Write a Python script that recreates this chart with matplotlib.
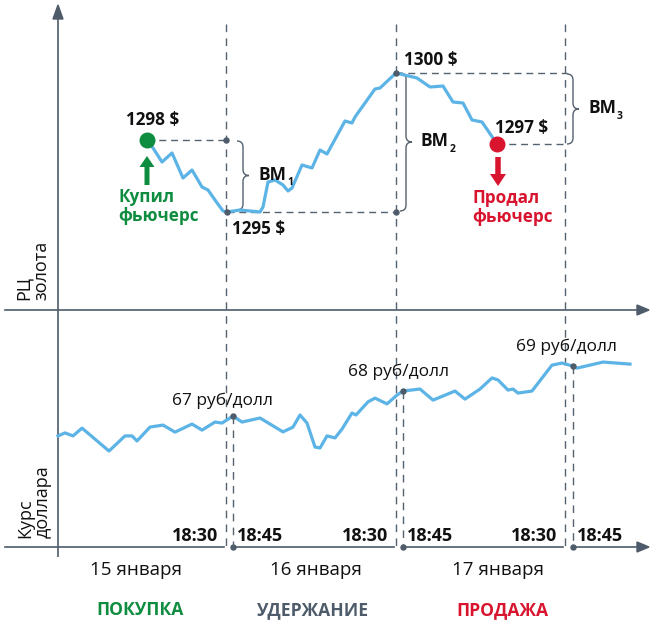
import matplotlib
matplotlib.use('Agg')
import numpy as np
import matplotlib.pyplot as plt
from matplotlib.path import Path
from matplotlib.patches import PathPatch, FancyArrow, Polygon

plt.rcParams['font.family'] = ['Open Sans', 'DejaVu Sans']

# ---------------- data ----------------
# gold futures price path (schematic level units) over time
gold_t = [147, 153, 162, 172, 183, 192, 195, 202, 208, 215, 223, 227, 240, 260, 263,
          268, 275, 283, 288, 292, 302, 312, 320, 327, 345, 352, 355, 375, 380, 396,
          417, 430, 443, 453, 463, 472, 482, 493, 497]
gold_level = [170, 162, 148, 157, 132, 140, 135, 123, 120, 110, 99, 98, 100, 98, 103,
              128, 130, 125, 119, 122, 145, 142, 160, 156, 189, 187, 193, 221, 222, 237,
              232, 223, 224, 208, 207, 190, 188, 172, 166]
gold_labels = ['1298 $', '1295 $', '1300 $', '1297 $']

# USD/RUB rate over the same time axis
usd_t = [58, 65, 73, 82, 109, 125, 132, 137, 150, 163, 175, 192, 202, 215, 222, 233,
         242, 260, 283, 293, 300, 307, 315, 320, 327, 335, 342, 352, 356, 368, 375, 387,
         397, 403, 420, 433, 455, 465, 480, 492, 498, 508, 513, 518, 532, 552, 562, 573,
         577, 603, 630]
usd_rate = [66.23, 66.35, 66.23, 66.54, 65.63, 66.23, 66.23, 66.03, 66.58, 66.66, 66.38,
            66.70, 66.46, 66.78, 66.74, 67.02, 66.78, 66.94, 66.39, 66.58, 67.06, 66.74,
            65.79, 65.75, 66.23, 66.15, 66.50, 67.14, 67.06, 67.58, 67.73, 67.50, 67.85,
            68.01, 68.09, 67.65, 68.01, 67.69, 68.09, 68.53, 68.45, 68.05, 68.09, 67.93,
            68.01, 69.04, 69.12, 69.00, 68.92, 69.16, 69.08]
usd_labels = ['67 руб/долл', '68 руб/долл', '69 руб/долл']

close_t = [226, 396, 565]     # 18:30 session close
open_t = [233, 403, 573]      # 18:45 session open
close_labels = ['18:30', '18:30', '18:30']
open_labels = ['18:45', '18:45', '18:45']
days = ['15 января', '16 января', '17 января']
phases = ['ПОКУПКА', 'УДЕРЖАНИЕ', 'ПРОДАЖА']
vm_labels = ['ВМ', 'ВМ', 'ВМ']
vm_subs = ['1', '2', '3']

# ---------------- style ----------------
W, H = 654, 621
AXC = '#4d5b6a'
DASHC = '#55626f'
LINEC = '#5cb4e6'
GREEN = '#0e8c3f'
RED = '#d8142f'
TXT = '#111111'

fig = plt.figure(figsize=(W / 100, H / 100), dpi=100)
ax = fig.add_axes([0, 0, 1, 1])
ax.set_xlim(0, W)
ax.set_ylim(H, 0)
ax.axis('off')

GOLD_TOP = 310  # pixel row of gold panel baseline
ax_g = fig.add_axes([0, 1 - GOLD_TOP / H, 1, GOLD_TOP / H])
ax_g.set_xlim(0, W)
ax_g.set_ylim(0, GOLD_TOP)
ax_g.axis('off')
ax_g.patch.set_alpha(0)

USD_LO, USD_HI = 61.306, 71.226
ax_u = fig.add_axes([0, 1 - 560 / H, 1, 250 / H])
ax_u.set_xlim(0, W)
ax_u.set_ylim(USD_LO, USD_HI)
ax_u.axis('off')
ax_u.patch.set_alpha(0)

# ---------------- axes lines ----------------
ax.plot([58, 58], [17, 557], color=AXC, lw=1.2, solid_capstyle='butt')
ax.add_patch(Polygon([(53, 19), (58, 5), (63, 19)], closed=True, color=AXC))
ax.plot([5, 640], [310, 310], color=AXC, lw=1.2)
ax.add_patch(Polygon([(637, 305), (649, 310), (637, 315)], closed=True, color=AXC))
seg_starts = [5] + open_t
seg_ends = [c - 2 for c in close_t] + [640]
for s, e in zip(seg_starts, seg_ends):
    ax.plot([s, e], [547, 547], color=AXC, lw=1.2)
ax.add_patch(Polygon([(637, 542), (649, 547), (637, 552)], closed=True, color=AXC))
ax.plot(open_t, [547] * 3, 'o', color=AXC, ms=3.6, zorder=5)

# ---------------- vertical dashed session lines ----------------
dash = (0, (5.5, 4.5))
for c in close_t:
    ax.plot([c, c], [24, 549], color=DASHC, lw=1.0, linestyle=dash)
usd_open_vals = np.interp(open_t, usd_t, usd_rate)
for o, v in zip(open_t, usd_open_vals):
    ax_u.plot([o, o], [v, USD_LO + (560 - 547) / 25.2], color=DASHC, lw=1.0, linestyle=dash)

# ---------------- gold panel ----------------
i_buy, i_low, i_high, i_sell = 0, 11, 29, len(gold_t) - 1
lv_buy, lv_low, lv_high, lv_sell = (gold_level[i_buy], gold_level[i_low],
                                     gold_level[i_high], gold_level[i_sell])
hd = (0, (5, 3.5))
ax_g.plot([gold_t[i_buy], close_t[0]], [lv_buy, lv_buy], color=DASHC, lw=1.0, linestyle=hd)
ax_g.plot([gold_t[i_low], close_t[1]], [lv_low, lv_low], color=DASHC, lw=1.0, linestyle=hd)
ax_g.plot([gold_t[i_high], close_t[2] + 2], [lv_high, lv_high], color=DASHC, lw=1.0, linestyle=hd)
ax_g.plot([gold_t[i_sell], close_t[2] + 2], [lv_sell, lv_sell], color=DASHC, lw=1.0, linestyle=hd)
ax_g.plot(gold_t, gold_level, color=LINEC, lw=2.3, solid_joinstyle='round', zorder=3)
ax_g.plot([close_t[0], gold_t[i_low], gold_t[i_high], gold_t[i_high]],
          [lv_buy, lv_low, lv_high, lv_low], 'o', color=AXC, ms=3.6, zorder=4)
ax_g.plot([gold_t[i_buy]], [lv_buy], 'o', color=GREEN, ms=10.5, zorder=5)
ax_g.plot([gold_t[i_sell]], [lv_sell], 'o', color=RED, ms=10.5, zorder=5)


def brace(a, x0, ytop, ybot, w=12, r=6):
    xs, xt = x0 + w / 2, x0 + w
    ym = (ytop + ybot) / 2
    verts = [(x0, ytop), (xs, ytop), (xs, ytop - r), (xs, ym + r), (xs, ym), (xt, ym),
             (xs, ym), (xs, ym - r), (xs, ybot + r), (xs, ybot), (x0, ybot)]
    codes = [Path.MOVETO, Path.CURVE3, Path.CURVE3, Path.LINETO, Path.CURVE3, Path.CURVE3,
             Path.CURVE3, Path.CURVE3, Path.LINETO, Path.CURVE3, Path.CURVE3]
    a.add_patch(PathPatch(Path(verts, codes), fill=False, edgecolor=DASHC, lw=1.0))
    return xt, ym


brace_specs = [(237, lv_buy - 1, lv_low + 2), (400, lv_high, lv_low + 1), (567, lv_high - 1, lv_sell)]
vm_pos = []
for (x0, yt, yb) in brace_specs:
    vm_pos.append(brace(ax_g, x0, yt, yb))
for (xt, ym), lab, sub in zip(vm_pos, vm_labels, vm_subs):
    t = ax_g.text(xt + 9, ym + 1, lab, fontsize=12.5, fontweight='bold', color=TXT,
                  ha='left', va='center')
    ax_g.annotate(sub, xy=(1, 0), xycoords=t, xytext=(0.8, -3.5), textcoords='offset points',
                  fontsize=7.5, fontweight='bold', color=TXT, ha='left', va='bottom')

# price labels
ax_g.text(gold_t[i_buy] + 6, lv_buy + 20, gold_labels[0], fontsize=12.3, fontweight='bold',
          color=TXT, ha='center', va='center')
ax_g.text(259, lv_low - 17, gold_labels[1], fontsize=12.3, fontweight='bold',
          color=TXT, ha='center', va='center')
ax_g.text(431, lv_high + 13, gold_labels[2], fontsize=12.3, fontweight='bold',
          color=TXT, ha='center', va='center')
ax_g.text(522, lv_sell + 16, gold_labels[3], fontsize=12.3, fontweight='bold',
          color=TXT, ha='center', va='center')

# buy / sell arrows and captions
ax.add_patch(FancyArrow(147, 185, 0, -29, width=5, head_width=15, head_length=11,
                        length_includes_head=True, color=GREEN, lw=0))
ax.add_patch(FancyArrow(498, 157, 0, 29, width=5.5, head_width=16, head_length=12,
                        length_includes_head=True, color=RED, lw=0))
ax.text(118, 221, 'Купил\nфьючерс', fontsize=12.3, fontweight='bold', color=GREEN,
        ha='left', va='baseline', linespacing=1.05)
ax.text(472, 222, 'Продал\nфьючерс', fontsize=12.3, fontweight='bold', color=RED,
        ha='left', va='baseline', linespacing=1.05)

# ---------------- USD panel ----------------
ax_u.plot(usd_t, usd_rate, color=LINEC, lw=2.3, solid_joinstyle='round', zorder=3)
ax_u.plot(open_t, usd_open_vals, 'o', color=AXC, ms=3.6, zorder=4)
usd_lab_pos = [(223, 405), (399, 376), (567, 351)]
for (x, y), lab in zip(usd_lab_pos, usd_labels):
    ax.text(x, y, lab, fontsize=12.5, color=TXT, ha='center', va='baseline')

# ---------------- time labels ----------------
for c, o, lc, lo in zip(close_t, open_t, close_labels, open_labels):
    ax.text(c - 8, 541, lc, fontsize=13, fontweight='bold', color=TXT, ha='right', va='baseline')
    ax.text(o + 4, 541, lo, fontsize=13, fontweight='bold', color=TXT, ha='left', va='baseline')

day_x = [136, 316, 498]
for x, d in zip(day_x, days):
    ax.text(x, 575, d, fontsize=13.5, color=TXT, ha='center', va='baseline')

phase_x = [140, 313, 502]
phase_c = [GREEN, AXC, RED]
for x, p, c in zip(phase_x, phases, phase_c):
    ax.text(x, 615, p, fontsize=12.6, fontweight='bold', color=c, ha='center', va='baseline')

# ---------------- axis titles ----------------
ax.text(47, 300, 'РЦ\nзолота', fontsize=13, color=TXT, rotation=90, rotation_mode='anchor',
        ha='left', va='baseline', linespacing=0.95)
ax.text(48, 538, 'Курс\nдоллара', fontsize=13, color=TXT, rotation=90, rotation_mode='anchor',
        ha='left', va='baseline', linespacing=0.95)

fig.savefig('out.png', dpi=100)
